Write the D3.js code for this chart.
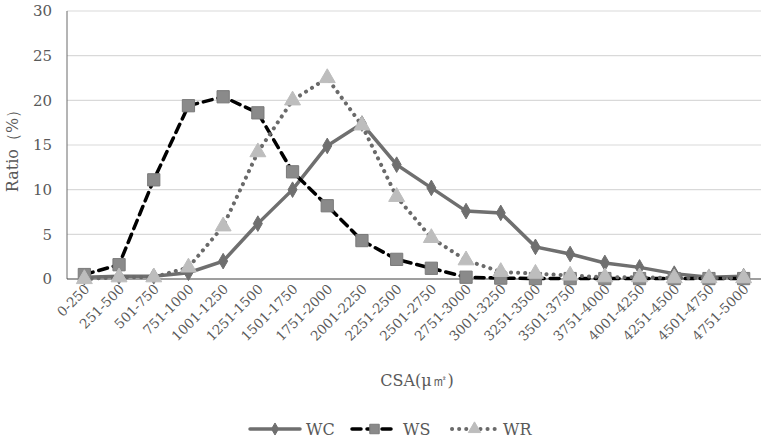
<!DOCTYPE html>
<html>
<head>
<meta charset="utf-8">
<script src="https://cdn.jsdelivr.net/npm/d3@7"></script>
<style>
  body { margin: 0; background: #fff; }
</style>
</head>
<body>
<svg id="chart"></svg>
<script>
// categories and series
const categories = ['0-250', '251-500', '501-750', '751-1000', '1001-1250', '1251-1500',
  '1501-1750', '1751-2000', '2001-2250', '2251-2500', '2501-2750', '2751-3000',
  '3001-3250', '3251-3500', '3501-3750', '3751-4000', '4001-4250', '4251-4500',
  '4501-4750', '4751-5000'];
const wcValues = [0.2, 0.3, 0.3, 0.7, 2.0, 6.2, 10.0, 14.9, 17.4, 12.8, 10.2, 7.6, 7.4, 3.6, 2.8, 1.8, 1.3, 0.6, 0.2, 0.3];
const wsValues = [0.5, 1.6, 11.1, 19.4, 20.4, 18.6, 12.0, 8.2, 4.3, 2.2, 1.2, 0.2, 0.1, 0.05, 0.05, 0.05, 0.05, 0.05, 0.05, 0.05];
const wrValues = [0.0, 0.2, 0.2, 1.3, 5.9, 14.2, 20.0, 22.5, 17.2, 9.2, 4.6, 2.1, 0.8, 0.6, 0.4, 0.2, 0.2, 0.1, 0.1, 0.1];
const yTicks = [0, 5, 10, 15, 20, 25, 30];

const series = [
  { name: 'WC', values: wcValues, stroke: '#6f6f6f', dash: null, marker: 'diamond', fill: '#6f6f6f', mstroke: '#6f6f6f', size: 70, sw: 3.5 },
  { name: 'WS', values: wsValues, stroke: '#000', dash: '9,6', marker: 'square', fill: '#8a8a8a', mstroke: '#7a7a7a', size: 150, sw: 3.5 },
  { name: 'WR', values: wrValues, stroke: '#6a6a6a', dash: '0.1,7', marker: 'triangle', fill: '#bdbdbd', mstroke: '#bdbdbd', size: 110, sw: 4 }
];

const serif = '"DejaVu Serif", "Liberation Serif", serif';
const textColor = '#595959';

const W = 769, H = 440;
const margin = { left: 67, top: 11, right: 8, bottom: 161 };
const width = W - margin.left - margin.right;
const height = H - margin.top - margin.bottom;

const svg = d3.select('#chart').attr('width', W).attr('height', H)
  .attr('font-family', serif);
const g = svg.append('g').attr('transform', `translate(${margin.left},${margin.top})`);

const x = d3.scaleBand().domain(categories).range([0, width]);
const y = d3.scaleLinear().domain([0, 30]).range([height, 0]);
const cx = d => x(d) + x.bandwidth() / 2;

// gridlines
g.append('g').selectAll('line')
  .data(yTicks.filter(t => t > 0))
  .enter().append('line')
    .attr('x1', 0).attr('x2', width)
    .attr('y1', d => y(d)).attr('y2', d => y(d))
    .attr('stroke', '#d9d9d9').attr('stroke-width', 1.2);

// y axis labels
g.append('g').selectAll('text')
  .data(yTicks)
  .enter().append('text')
    .attr('x', -15).attr('y', d => y(d))
    .attr('dy', '0.35em')
    .attr('text-anchor', 'end')
    .attr('fill', textColor)
    .style('font-size', '15px')
    .text(d => d);

// axis lines
g.append('line').attr('x1', 0).attr('x2', 0).attr('y1', 0).attr('y2', height)
  .attr('stroke', '#6b6b6b').attr('stroke-width', 1);
g.append('line').attr('x1', 0).attr('x2', width).attr('y1', height).attr('y2', height)
  .attr('stroke', '#404040').attr('stroke-width', 1.2);

// x labels
g.append('g').selectAll('text')
  .data(categories)
  .enter().append('text')
    .attr('text-anchor', 'end')
    .attr('fill', textColor)
    .attr('transform', d => `translate(${cx(d) + 6},${height + 11}) rotate(-45)`)
    .style('font-size', '13.5px')
    .text(d => d);

// titles
g.append('text')
  .attr('text-anchor', 'middle')
  .attr('fill', textColor)
  .attr('transform', `translate(${-49},${height / 2 + 2}) rotate(-90)`)
  .style('font-size', '16px')
  .text('Ratio（%）');

svg.append('text')
  .attr('x', 417).attr('y', 386)
  .attr('text-anchor', 'middle')
  .attr('fill', textColor)
  .style('font-size', '16px')
  .text('CSA(μ㎡)');

const symbolType = { diamond: d3.symbolDiamond, square: d3.symbolSquare, triangle: d3.symbolTriangle };

const line = d3.line()
  .x((d, i) => cx(categories[i]))
  .y(d => y(d));

// lines & markers
series.forEach(s => {
  g.append('path')
    .datum(s.values)
    .attr('d', line)
    .attr('fill', 'none')
    .attr('stroke', s.stroke)
    .attr('stroke-width', s.sw)
    .attr('stroke-dasharray', s.dash)
    .attr('stroke-linecap', 'round');
});
series.forEach(s => {
  g.append('g').selectAll('path')
    .data(s.values)
    .enter().append('path')
      .attr('transform', (d, i) => `translate(${cx(categories[i])},${y(d)})`)
      .attr('d', d3.symbol().type(symbolType[s.marker]).size(s.size))
      .attr('fill', s.fill)
      .attr('stroke', s.mstroke)
      .attr('stroke-width', 1);
});

// legend
const legendItems = [
  { s: series[0], x: 250, w: 50 },
  { s: series[1], x: 352, w: 45 },
  { s: series[2], x: 452, w: 45 }
];
const leg = svg.append('g').attr('transform', 'translate(0,429)');
legendItems.forEach(it => {
  const s = it.s;
  leg.append('line')
    .attr('x1', it.x).attr('x2', it.x + it.w)
    .attr('y1', 0).attr('y2', 0)
    .attr('stroke', s.stroke)
    .attr('stroke-width', s.sw)
    .attr('stroke-dasharray', s.dash)
    .attr('stroke-linecap', 'round');
  leg.append('path')
    .attr('transform', `translate(${it.x + it.w / 2},0)`)
    .attr('d', d3.symbol().type(symbolType[s.marker]).size(s.size * 0.6))
    .attr('fill', s.fill)
    .attr('stroke', s.mstroke);
  leg.append('text')
    .attr('x', it.x + it.w + 6).attr('y', 0)
    .attr('dy', '0.35em')
    .attr('fill', textColor)
    .style('font-size', '16px')
    .text(s.name);
});
</script>
</body>
</html>
